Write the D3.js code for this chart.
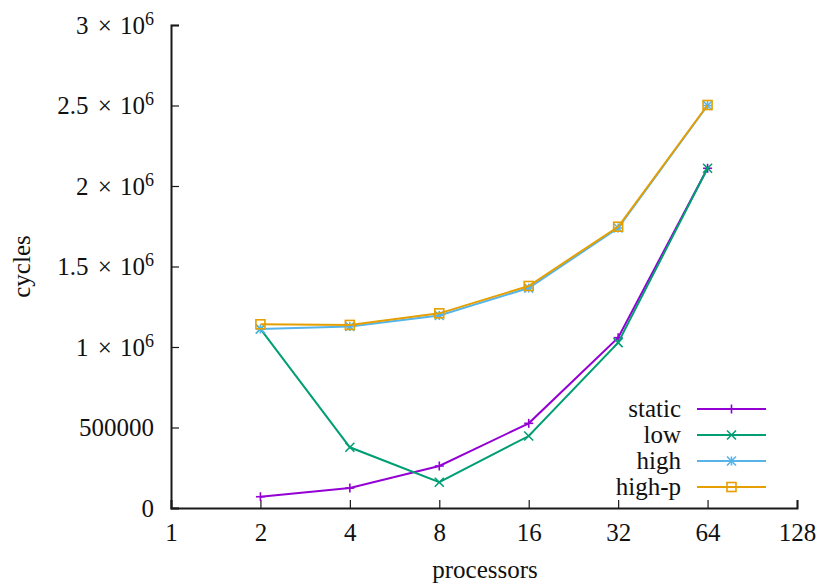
<!DOCTYPE html>
<html>
<head>
<meta charset="utf-8">
<script src="https://cdn.jsdelivr.net/npm/d3@7/dist/d3.min.js"></script>
<style>
  html, body { margin: 0; padding: 0; background: #fff; }
  svg text { font-family: "Liberation Serif", "DejaVu Serif", serif; fill: #111; }
</style>
</head>
<body>
<svg id="chart" width="818" height="588"></svg>
<script>
// Processor counts on a log2 axis
const processors = [2, 4, 8, 16, 32, 64];
const xTicks = [1, 2, 4, 8, 16, 32, 64, 128];
const yTicks = [0, 500000, 1000000, 1500000, 2000000, 2500000, 3000000];
const yTickLabels = ["0", "500000", "1|6", "1.5|6", "2|6", "2.5|6", "3|6"];

// Cycles per scheduling policy
const seriesNames = ["static", "low", "high", "high-p"];
const staticCycles = [70000, 124000, 261000, 526000, 1058000, 2110000];
const lowCycles    = [1112000, 377000, 160000, 447000, 1027000, 2110000];
const highCycles   = [1112000, 1127000, 1196000, 1366000, 1739000, 2500000];
const highPCycles  = [1141000, 1137000, 1209000, 1379000, 1747000, 2503000];
const seriesColors = ["#9400d3", "#009e73", "#56b4e9", "#e69f00"];
const seriesMarkers = ["plus", "cross", "star", "square"];

const FONT = '"Liberation Serif", "DejaVu Serif", serif';
const FS = 25;

const svg = d3.select("#chart");
const margin = { left: 171, right: 21, top: 25, bottom: 80 };
const W = 818, H = 588;

const x = d3.scaleLog().base(2).domain([1, 128]).range([margin.left, W - margin.right]);
const y = d3.scaleLinear().domain([0, 3000000]).range([H - margin.bottom, margin.top]);

const seriesValues = [staticCycles, lowCycles, highCycles, highPCycles];
const series = seriesNames.map((name, i) => ({
  name, color: seriesColors[i], marker: seriesMarkers[i],
  points: processors.map((p, j) => ({ p, v: seriesValues[i][j] }))
}));

// Axes: left and bottom only, ticks pointing inward
const xAxis = d3.axisBottom(x).tickValues(xTicks).tickSize(-8).tickPadding(15).tickFormat(d3.format("d"));
const gx = svg.append("g").attr("transform", `translate(0,${y(0)})`).call(xAxis);
const yAxis = d3.axisLeft(y).tickValues(yTicks).tickSize(-8).tickPadding(16).tickFormat(() => "");
const gy = svg.append("g").attr("transform", `translate(${x(1)},0)`).call(yAxis);

[gx, gy].forEach(g => {
  g.attr("font-family", FONT).attr("font-size", FS);
  g.select(".domain").attr("stroke", "#1a1a1a").attr("stroke-width", 2);
  g.selectAll(".tick line").attr("stroke", "#1a1a1a").attr("stroke-width", 1.2);
  g.selectAll(".tick text").attr("fill", "#111");
});
gx.selectAll(".tick text").attr("dy", "0.71em");

// Y tick labels, with "a × 10^6" notation
gy.selectAll(".tick").each(function(d, i) {
  const t = d3.select(this).select("text").text(null).attr("x", -17).attr("dy", "0.32em");
  const lab = yTickLabels[i];
  if (lab.includes("|")) {
    const [m, e] = lab.split("|");
    t.append("tspan").text(m);
    t.append("tspan").attr("dx", 3).text(" × ");
    t.append("tspan").attr("dx", 2).text("10");
    t.append("tspan").attr("dy", "-0.5em").attr("font-size", 18).text(e);
  } else {
    t.text(lab);
  }
});

// Axis titles
svg.append("text").attr("x", (x(1) + x(128)) / 2 + 1).attr("y", 578)
  .attr("text-anchor", "middle").attr("font-size", FS).text("processors");
svg.append("text").attr("transform", `translate(30,${(y(0) + y(3000000)) / 2}) rotate(-90)`)
  .attr("text-anchor", "middle").attr("font-size", FS).text("cycles");

// Marker shapes
function drawMarker(g, type, cx, cy, color) {
  const s = 4.5;
  const st = { stroke: color, "stroke-width": 1.6, fill: "none" };
  const seg = (x1, y1, x2, y2) => {
    const l = g.append("line").attr("x1", x1).attr("y1", y1).attr("x2", x2).attr("y2", y2);
    Object.entries(st).forEach(([k, v]) => l.attr(k, v));
  };
  if (type === "plus" || type === "star") {
    seg(cx - s, cy, cx + s, cy); seg(cx, cy - s, cx, cy + s);
  }
  if (type === "cross" || type === "star") {
    seg(cx - s, cy - s, cx + s, cy + s); seg(cx - s, cy + s, cx + s, cy - s);
  }
  if (type === "square") {
    const r = g.append("rect").attr("x", cx - s).attr("y", cy - s).attr("width", 2 * s).attr("height", 2 * s);
    Object.entries(st).forEach(([k, v]) => r.attr(k, v));
  }
}

const line = d3.line().x(d => x(d.p)).y(d => y(d.v));
series.forEach(s => {
  const g = svg.append("g");
  g.append("path").datum(s.points).attr("d", line)
    .attr("fill", "none").attr("stroke", s.color).attr("stroke-width", 2);
  s.points.forEach(pt => drawMarker(g, s.marker, x(pt.p), y(pt.v), s.color));
});

// Legend
const legend = svg.append("g");
series.forEach((s, i) => {
  const ly = 409 + i * 26;
  legend.append("text").attr("x", 681).attr("y", ly).attr("dy", "0.32em")
    .attr("text-anchor", "end").attr("font-size", FS).text(s.name);
  legend.append("line").attr("x1", 697).attr("x2", 766).attr("y1", ly).attr("y2", ly)
    .attr("stroke", s.color).attr("stroke-width", 2);
  drawMarker(legend, s.marker, 731.5, ly, s.color);
});
</script>
</body>
</html>
